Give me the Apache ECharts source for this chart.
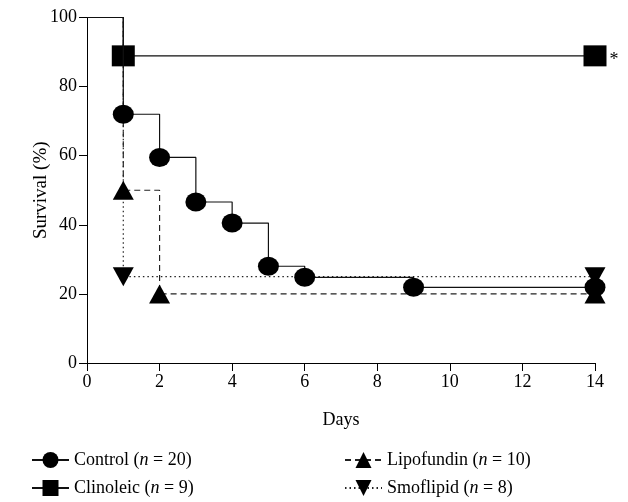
<!DOCTYPE html>
<html>
<head>
<meta charset="utf-8">
<script src="https://cdn.jsdelivr.net/npm/echarts@6/dist/echarts.min.js"></script>
<style>html,body{margin:0;padding:0;background:#fff}#c{width:628px;height:502px}</style>
</head>
<body>
<div id="c"></div>
<script>
const xTicks = [0, 2, 4, 6, 8, 10, 12, 14];
const yTicks = [0, 20, 40, 60, 80, 100];

const controlDays = [0, 1, 2, 3, 4, 5, 6, 9, 14];
const controlSurv = [100, 72, 59.5, 46.6, 40.5, 28, 24.8, 21.9, 21.9];

const clinoleicDays = [0, 1, 14];
const clinoleicSurv = [100, 88.9, 88.9];

const lipofundinDays = [0, 1, 2, 14];
const lipofundinSurv = [100, 50, 20, 20];

const smoflipidDays = [0, 1, 14];
const smoflipidSurv = [100, 25, 25];

const ns = { Control: 20, Clinoleic: 9, Lipofundin: 10, Smoflipid: 8 };

const FONT = '"Liberation Serif", "DejaVu Serif", serif';
const FS = 18;

function mk(days, surv, star) {
  return days.map((d, i) => {
    const item = { value: [d, surv[i]] };
    if (i === 0) item.symbol = 'none';
    if (star && i === days.length - 1) {
      item.label = { show: true, formatter: '*', position: 'right', distance: 3,
        fontFamily: FONT, fontSize: 18, color: '#000', offset: [0, 4] };
    }
    return item;
  });
}

const chart = echarts.init(document.getElementById('c'), null, { renderer: 'canvas' });
const legendText = {
  fontFamily: FONT, fontSize: FS, color: '#000',
  rich: {
    a: { fontFamily: FONT, fontSize: FS, color: '#000' },
    i: { fontFamily: FONT, fontSize: FS, color: '#000', fontStyle: 'italic' }
  }
};
const fmt = n => '{a|' + n + ' (}{i|n}{a| = ' + ns[n] + ')}';

chart.setOption({
  animation: false,
  backgroundColor: '#fff',
  grid: { left: 87, right: 33, top: 17.5, bottom: 139, containLabel: false },
  xAxis: {
    type: 'value', min: 0, max: 14, interval: 2,
    name: 'Days', nameLocation: 'middle', nameGap: 48, nameMoveOverlap: false,
    nameTextStyle: { fontFamily: FONT, fontSize: FS, color: '#000' },
    axisLine: { show: true, onZero: false, lineStyle: { color: '#000', width: 1 } },
    axisTick: { show: true, length: 8, lineStyle: { color: '#000' } },
    axisLabel: { fontFamily: FONT, fontSize: FS, color: '#000', margin: 10,
      customValues: xTicks, formatter: v => String(v) },
    splitLine: { show: false }
  },
  yAxis: {
    type: 'value', min: 0, max: 100, interval: 20,
    name: 'Survival (%)', nameLocation: 'middle', nameGap: 36, nameMoveOverlap: false,
    nameTextStyle: { fontFamily: FONT, fontSize: 19, color: '#000' },
    axisLine: { show: true, onZero: false, lineStyle: { color: '#000', width: 1 } },
    axisTick: { show: true, length: 8, lineStyle: { color: '#000' } },
    axisLabel: { fontFamily: FONT, fontSize: FS, color: '#000', margin: 10,
      customValues: yTicks, formatter: v => String(v) },
    splitLine: { show: false }
  },
  legend: [
    { data: ['Control', 'Clinoleic'], orient: 'vertical', left: 31, top: 451, padding: 0,
      height: 51, itemWidth: 37, itemHeight: 20, itemGap: 10, textStyle: legendText, formatter: fmt },
    { data: ['Lipofundin', 'Smoflipid'], orient: 'vertical', left: 344, top: 451, padding: 0,
      height: 51, itemWidth: 37, itemHeight: 20, itemGap: 10, textStyle: legendText, formatter: fmt }
  ],
  series: [
    { name: 'Smoflipid', type: 'line', step: 'end', z: 2,
      symbol: 'path://M0,0 L10,0 L5,9 Z', symbolSize: [21, 19],
      lineStyle: { color: '#222', width: 1.2, type: [1.5, 3] },
      itemStyle: { color: '#000' },
      data: mk(smoflipidDays, smoflipidSurv) },
    { name: 'Lipofundin', type: 'line', step: 'end', z: 3,
      symbol: 'triangle', symbolSize: [21, 19],
      lineStyle: { color: '#222', width: 1.2, type: [6, 4] },
      itemStyle: { color: '#000' },
      data: mk(lipofundinDays, lipofundinSurv) },
    { name: 'Clinoleic', type: 'line', step: 'end', z: 4,
      symbol: 'rect', symbolSize: [23, 21],
      lineStyle: { color: '#111', width: 1.2 },
      itemStyle: { color: '#000' },
      data: mk(clinoleicDays, clinoleicSurv, true) },
    { name: 'Control', type: 'line', step: 'end', z: 5,
      symbol: 'circle', symbolSize: [21, 19],
      lineStyle: { color: '#111', width: 1.2 },
      itemStyle: { color: '#000' },
      data: mk(controlDays, controlSurv) }
  ]
});
</script>
</body>
</html>
